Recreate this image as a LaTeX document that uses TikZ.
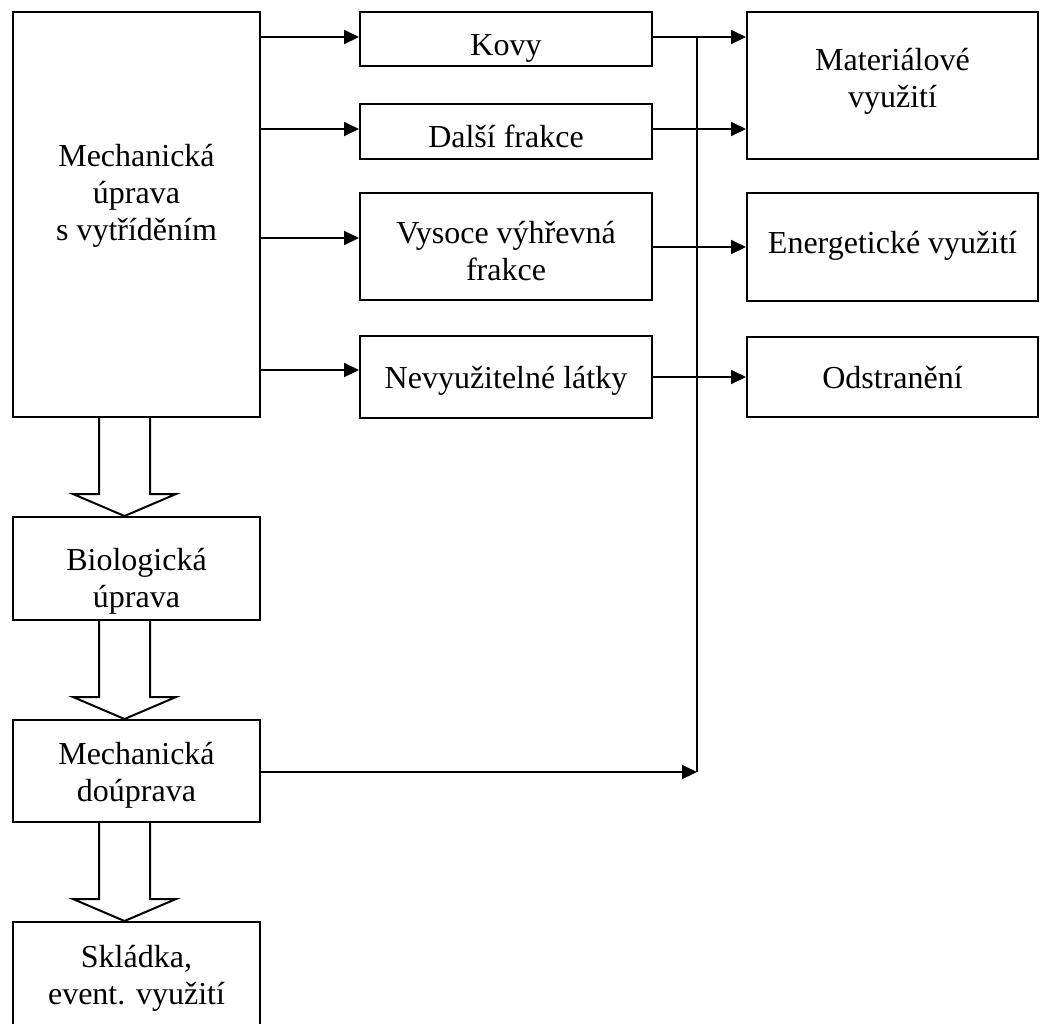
\documentclass[tikz,border=0pt]{standalone}
\usepackage{fontspec}
\setmainfont{Liberation Serif}
\usetikzlibrary{arrows.meta,calc}
\tikzset{
  box/.style={draw, line width=2pt, rectangle, inner sep=0pt},
  txt/.style={font=\fontsize{32}{37}\selectfont, align=center, inner sep=0pt},
  arr/.style={line width=2pt, -{Triangle[length=15pt,width=14pt]}},
  conn/.style={line width=2pt},
  hollow/.style={draw, line width=2pt, fill=white, line join=miter},
}
\newcommand\blkarrow[2]{%
  \draw[hollow] ($(#1.south)+(-37.5,0)$) -- ($(#1.south)+(-37.5,76)$) -- ($(#1.south)+(-63.5,76)$)
    -- ($(#2.north)+(-12,0)$) -- ($(#1.south)+(39.5,76)$) -- ($(#1.south)+(13.5,76)$) -- ($(#1.south)+(13.5,0)$);}
\begin{document}
\begin{tikzpicture}[x=1pt,y=-1pt]
\useasboundingbox (0,0) rectangle (1040,1023);
\clip (0,0) rectangle (1040,1023);
% left column
\node[box, minimum width=247pt, minimum height=405pt,
  label={[txt,name=mechT,yshift=18.5pt]center:{Mechanická\\úprava\\s vytříděním}}] (mech) at (136.5,214.5) {};
\node[box, minimum width=247pt, minimum height=103pt,
  label={[txt,name=bioT,yshift=-13pt]center:{Biologická\\úprava}}] (bio) at (136.5,568.5) {};
\node[box, minimum width=247pt, minimum height=102pt,
  label={[txt,name=mdoT,yshift=-4pt]center:{Mechanická\\doúprava}}] (mdo) at (136.5,771) {};
\node[box, minimum width=247pt, minimum height=118pt,
  label={[txt,name=sklT,yshift=3pt]center:{Skládka,\\event. využití}}] (skl) at (136.5,981) {};
% middle column
\node[box, minimum width=292pt, minimum height=54pt,
  label={[txt,name=kovyT,yshift=-9pt]center:{Kovy}}] (kovy) at (506,39) {};
\node[box, minimum width=292pt, minimum height=55pt,
  label={[txt,name=dalsiT,yshift=-5pt]center:{Další frakce}}] (dalsi) at (506,131.5) {};
\node[box, minimum width=292pt, minimum height=107pt,
  label={[txt,name=vysT,yshift=-5pt]center:{Vysoce výhřevná\\frakce}}] (vys) at (506,246.5) {};
\node[box, minimum width=292pt, minimum height=82pt,
  label={[txt,name=nevT,yshift=-4pt]center:{Nevyužitelné látky}}] (nev) at (506,377) {};
% right column
\node[box, minimum width=291pt, minimum height=147pt,
  label={[txt,name=matT,yshift=4pt]center:{Materiálové\\využití}}] (mat) at (892.5,85.5) {};
\node[box, minimum width=291pt, minimum height=108pt,
  label={[txt,name=enerT,yshift=1pt]center:{Energetické využití}}] (ener) at (892.5,247) {};
\node[box, minimum width=291pt, minimum height=80pt,
  label={[txt,name=odstT,yshift=-1pt]center:{Odstranění}}] (odst) at (892.5,377) {};
% connectors from mech
\coordinate (aK) at ([yshift=2pt]kovy.west);
\coordinate (aD) at ([yshift=2.5pt]dalsi.west);
\coordinate (aV) at ([yshift=8.5pt]vys.west);
\coordinate (aN) at ([yshift=7pt]nev.west);
\draw[arr] (mech.east |- aK) -- (aK);
\draw[arr] (mech.east |- aD) -- (aD);
\draw[arr] (mech.east |- aV) -- (aV);
\draw[arr] (mech.east |- aN) -- (aN);
% connectors to right column
\draw[arr] (kovy.east |- aK) -- (mat.west |- aK);
\draw[arr] (dalsi.east |- aD) -- (mat.west |- aD);
\draw[arr] (vys.east |- ener.west) -- (ener.west);
\draw[arr] (nev.east) -- (odst.west);
% collector line
\coordinate (jn) at (697,772);
\draw[conn] (jn) -- (jn |- aK);
\draw[arr] (mdo.east |- jn) -- (jn);
% hollow block arrows
\blkarrow{mech}{bio}
\blkarrow{bio}{mdo}
\blkarrow{mdo}{skl}
\end{tikzpicture}
\end{document}
